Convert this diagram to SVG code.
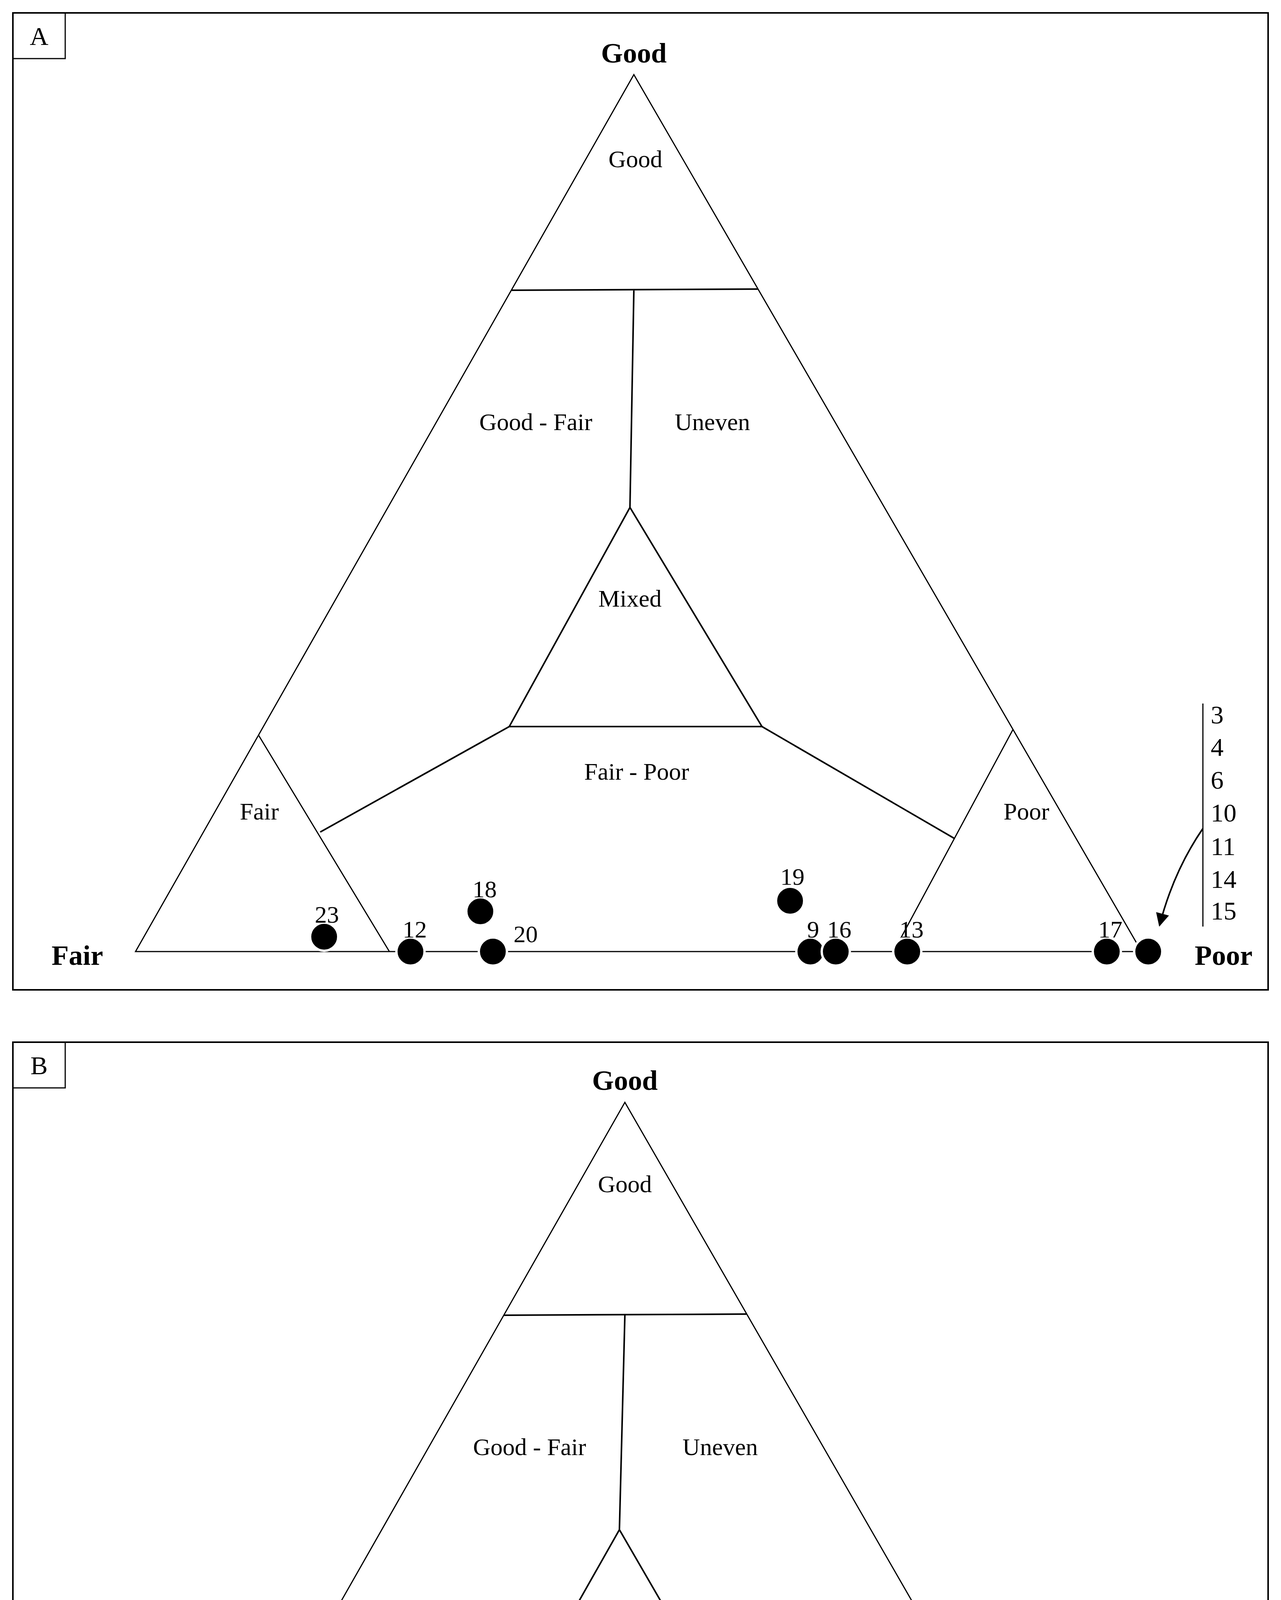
<svg xmlns="http://www.w3.org/2000/svg" width="3280" height="5262" viewBox="0 0 3280 5262">
<style>
text{font-family:"Liberation Serif",serif;fill:#000}
.rl{font-size:62px;text-anchor:middle}
.ax{font-size:72px;font-weight:bold;text-anchor:middle}
.n{font-size:62px;text-anchor:middle}
.nl{font-size:66px}
.ln{stroke:#000;stroke-width:3;fill:none}
.th{stroke:#000;stroke-width:4;fill:none}
.pt{fill:#000;stroke:#fff;stroke-width:6}
</style>
<defs>
<marker id="ab" viewBox="0 0 10 10" refX="9" refY="5" markerWidth="40" markerHeight="34" orient="auto" markerUnits="userSpaceOnUse"><path d="M0,0L10,5L0,10z" fill="#000"/></marker>
<marker id="as" viewBox="0 0 10 10" refX="9" refY="5" markerWidth="26" markerHeight="22" orient="auto" markerUnits="userSpaceOnUse"><path d="M0,0L10,5L0,10z" fill="#000"/></marker></defs>
<rect width="3280" height="5262" fill="#fff"/>
<g id="panelA">
<rect x="33" y="33" width="3214" height="2501" class="th" stroke-width="5"/>
<rect x="33" y="33" width="134" height="117" class="ln"/>
<text x="100" y="115" font-size="66" text-anchor="middle">A</text>
<g id="A-frame">
<path class="ln" d="M347,2436L1623,191L2923,2436Z"/>
<path class="th" d="M1309,743L1941,740M1623,743L1613,1299M1613,1299L1304,1860L1951,1860Z"/>
<path class="th" d="M1304,1860L820,2130M1951,1860L2443,2146"/>
<path class="ln" d="M662,1882L997,2436M2594,1867L2288,2436"/>
</g>
<g id="A-labels">
<text class="ax" x="1623" y="160">Good</text>
<text class="ax" x="198" y="2470">Fair</text>
<text class="ax" x="3133" y="2470">Poor</text>
<text class="rl" x="1627" y="428">Good</text>
<text class="rl" x="1372" y="1101">Good - Fair</text>
<text class="rl" x="1824" y="1101">Uneven</text>
<text class="rl" x="1613" y="1553">Mixed</text>
<text class="rl" x="1630" y="1996">Fair - Poor</text>
<text class="rl" x="664" y="2098">Fair</text>
<text class="rl" x="2628" y="2098">Poor</text>
</g>
<g id="A-points">
<circle class="pt" cx="830" cy="2398" r="36"/><text class="n" x="837" y="2362">23</text>
<circle class="pt" cx="1051" cy="2436" r="36"/><text class="n" x="1062" y="2400">12</text>
<circle class="pt" cx="1230" cy="2333" r="36"/><text class="n" x="1241" y="2297">18</text>
<circle class="pt" cx="1262" cy="2436" r="36"/><text class="n" x="1346" y="2412">20</text>
<circle class="pt" cx="2023" cy="2306" r="36"/><text class="n" x="2029" y="2265">19</text>
<circle class="pt" cx="2075" cy="2436" r="36"/><text class="n" x="2082" y="2400">9</text>
<circle class="pt" cx="2140" cy="2436" r="36"/><text class="n" x="2149" y="2400">16</text>
<circle class="pt" cx="2323" cy="2436" r="36"/><text class="n" x="2334" y="2400">13</text>
<circle class="pt" cx="2834" cy="2436" r="36"/><text class="n" x="2843" y="2400">17</text>
<circle class="pt" cx="2940" cy="2436" r="36"/>
</g>
<g id="A-list">
<line class="ln" x1="3080" y1="1801" x2="3080" y2="2372"/>
<text class="nl" x="3100" y="1852">3</text><text class="nl" x="3100" y="1935">4</text><text class="nl" x="3100" y="2019">6</text><text class="nl" x="3100" y="2103">10</text><text class="nl" x="3100" y="2189">11</text><text class="nl" x="3100" y="2273">14</text><text class="nl" x="3100" y="2354">15</text>
</g>
</g>
<g id="panelB">
<rect x="33" y="2668" width="3214" height="2560" class="th" stroke-width="5"/>
<rect x="33" y="2668" width="134" height="117" class="ln"/>
<text x="100" y="2750" font-size="66" text-anchor="middle">B</text>
<g id="B-frame">
<path class="ln" d="M338,5040L1600,2822L2877,5040"/>
<line class="ln" x1="338" y1="5040" x2="2900" y2="5040"/>
<path class="th" d="M1290,3367L1912,3364M1600,3367L1586,3916M1586,3916L1275,4465L1904,4465Z"/>
<path class="th" d="M1275,4465L797,4726M1904,4465L2401,4759"/>
<path class="ln" d="M654,4485L975,5040M2557,4485L2240,5040"/>
</g>
<g id="B-labels">
<text class="ax" x="1600" y="2790">Good</text>
<text class="ax" x="150" y="5100">Fair</text>
<text class="ax" x="3089" y="5078">Poor</text>
<text class="rl" x="1600" y="3052">Good</text>
<text class="rl" x="1356" y="3725">Good - Fair</text>
<text class="rl" x="1844" y="3725">Uneven</text>
<text class="rl" x="1586" y="4164">Mixed</text>
<text class="rl" x="1597" y="4595">Fair - Poor</text>
<text class="rl" x="649" y="4696">Fair</text>
<text class="rl" x="2588" y="4712">Poor</text>
</g>
<g id="B-points">
<rect class="pt" x="2116" y="5011" width="64" height="63"/>
<rect class="pt" x="2222" y="5011" width="64" height="63"/>
<rect class="pt" x="2436" y="5011" width="42" height="63"/>
<rect x="2487" y="5011" width="7" height="63" fill="#000"/>
<rect class="pt" x="2500" y="5011" width="40" height="63"/>
<rect class="pt" x="2545" y="5011" width="64" height="63"/>
<rect class="pt" x="2695" y="5011" width="24" height="63"/>
<rect class="pt" x="2726" y="5011" width="60" height="63"/>
<rect class="pt" x="2792" y="5011" width="63" height="63"/>
<rect class="pt" x="2869" y="5011" width="64" height="63"/>
<text class="n" x="2153" y="5003">18</text>
<text class="n" x="2260" y="5003">23</text>
<text class="n" x="2424" y="5028">8</text>
<text class="n" x="2488" y="5003">12</text>
<text class="n" x="2579" y="5003">17</text>
<text class="n" x="2749" y="5003">910</text>
<text class="n" x="2488" y="5198">16</text>
<text class="n" x="2683" y="5198">20</text>
<text class="n" x="2898" y="5198">15</text>
</g>
<g id="B-list">
<line class="ln" x1="3061" y1="4454" x2="3061" y2="4985"/>
<text class="nl" x="3083" y="4512">3</text><text class="nl" x="3083" y="4589">4</text><text class="nl" x="3083" y="4666">6</text><text class="nl" x="3083" y="4742">11</text><text class="nl" x="3083" y="4822">13</text><text class="nl" x="3083" y="4899">14</text><text class="nl" x="3083" y="4978">19</text>
</g>
</g>
<g id="connectors">
<path class="th" d="M3080,2121Q3005,2230 2969,2369" marker-end="url(#ab)"/>
<path class="th" d="M3061,4733Q2990,4860 2940,4982" marker-end="url(#ab)"/>
<line class="ln" x1="2494" y1="5138" x2="2509" y2="5092" marker-end="url(#as)"/>
<line class="ln" x1="2646" y1="5138" x2="2596" y2="5092" marker-end="url(#as)"/>
<line class="ln" x1="2902" y1="5138" x2="2869" y2="5092" marker-end="url(#as)"/>
</g>
</svg>
